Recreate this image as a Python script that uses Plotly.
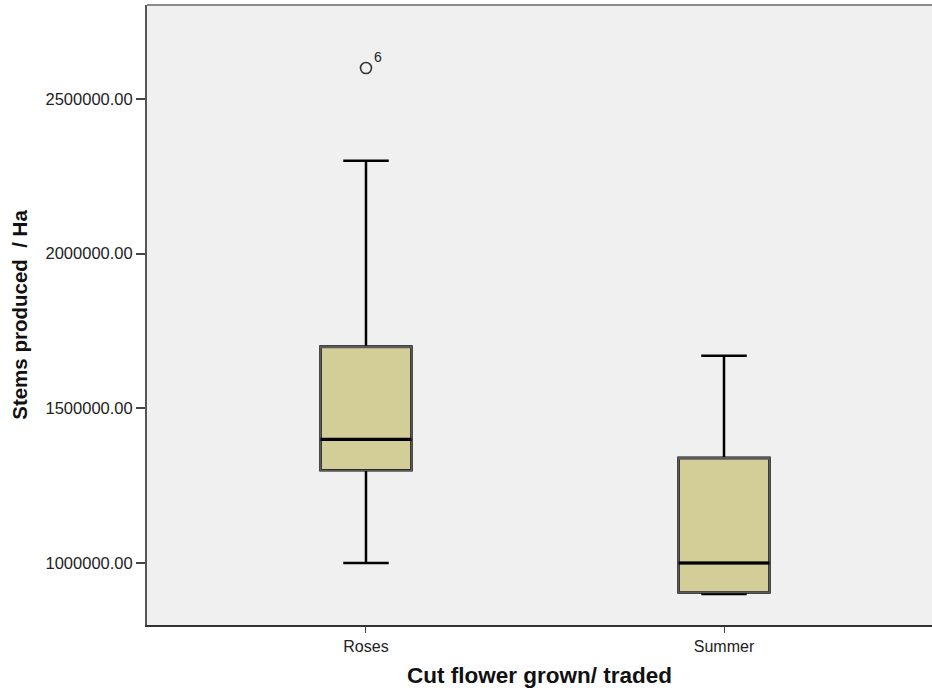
import plotly.graph_objects as go

# Five-number summaries of stems produced per hectare
categories = ["Roses", "Summer"]
lower_whisker = [1000000, 900000]
q1_values = [1300000, 905000]
medians = [1400000, 1000000]
q3_values = [1700000, 1340000]
upper_whisker = [2300000, 1670000]

# Outlying case (case number shown as label)
outlier_category = ["Roses"]
outlier_values = [2600000]
outlier_labels = ["6"]

y_ticks = [1000000, 1500000, 2000000, 2500000]

pos = {c: i for i, c in enumerate(categories)}
xs = [pos[c] for c in categories]
xo = [pos[c] for c in outlier_category]

FONT = "Arial, Liberation Sans, sans-serif"
BOX_W = 0.254

fig = go.Figure()

# Filled box with black whiskers and median
fig.add_trace(go.Box(
    x=xs, q1=q1_values, median=medians, q3=q3_values,
    lowerfence=lower_whisker, upperfence=upper_whisker,
    width=BOX_W, whiskerwidth=0.5,
    fillcolor="#D3CE98", line=dict(color="#000000", width=2.5),
    boxpoints=False, showlegend=False, hoverinfo="skip",
))

# Grey outline drawn over the box edges
fig.add_trace(go.Box(
    x=xs, q1=q1_values, median=q3_values, q3=q3_values,
    lowerfence=q1_values, upperfence=q3_values,
    width=BOX_W, whiskerwidth=0,
    fillcolor="rgba(0,0,0,0)", line=dict(color="#5a5a5a", width=1.6),
    boxpoints=False, showlegend=False, hoverinfo="skip",
))

# Re-draw medians on top in black
fig.add_trace(go.Box(
    x=xs, q1=medians, median=medians, q3=medians,
    lowerfence=medians, upperfence=medians,
    width=BOX_W, whiskerwidth=0,
    fillcolor="rgba(0,0,0,0)", line=dict(color="#000000", width=3.2),
    boxpoints=False, showlegend=False, hoverinfo="skip",
))

fig.add_trace(go.Scatter(
    x=xo, y=outlier_values, mode="markers",
    marker=dict(symbol="circle-open", size=11, color="#333333",
                line=dict(width=1.6, color="#333333")),
    showlegend=False, hoverinfo="skip", cliponaxis=False,
))

annotations = [
    dict(x=x, y=y, text=t, showarrow=False, xref="x", yref="y",
         xshift=12, yshift=11,
         font=dict(family=FONT, size=14, color="#222222"))
    for x, y, t in zip(xo, outlier_values, outlier_labels)
]

fig.update_layout(
    width=932, height=691,
    margin=dict(l=147, r=0, t=5, b=66),
    paper_bgcolor="#ffffff", plot_bgcolor="#f0f0f0",
    boxmode="overlay",
    font=dict(family=FONT, color="#222222"),
    annotations=annotations,
    shapes=[dict(type="line", xref="paper", yref="paper", x0=0, x1=1, y0=1, y1=1,
                 line=dict(color="#8a8a8a", width=2))],
)

fig.update_xaxes(
    range=[-0.6117, 1.581],
    tickvals=xs, ticktext=categories,
    ticks="outside", ticklen=6, tickcolor="#444444", tickwidth=1,
    tickfont=dict(family=FONT, size=16, color="#222222"),
    showgrid=False, zeroline=False,
    showline=True, linecolor="#333333", linewidth=1.5,
    title=dict(text="<b>Cut flower grown/ traded</b>",
               font=dict(family=FONT, size=22.5, color="#111111"), standoff=13),
)

fig.update_yaxes(
    range=[799600, 2803900],
    tickvals=y_ticks, ticktext=[f"{v:.2f}" for v in y_ticks],
    ticks="outside", ticklen=9, tickcolor="#444444", tickwidth=1.5,
    tickfont=dict(family=FONT, size=16.5, color="#222222"),
    showgrid=False, zeroline=False,
    showline=True, linecolor="#555555", linewidth=2,
    title=dict(text="<b>Stems produced  / Ha</b>",
               font=dict(family=FONT, size=20.5, color="#111111"), standoff=12),
)

fig.write_html("out.html")
